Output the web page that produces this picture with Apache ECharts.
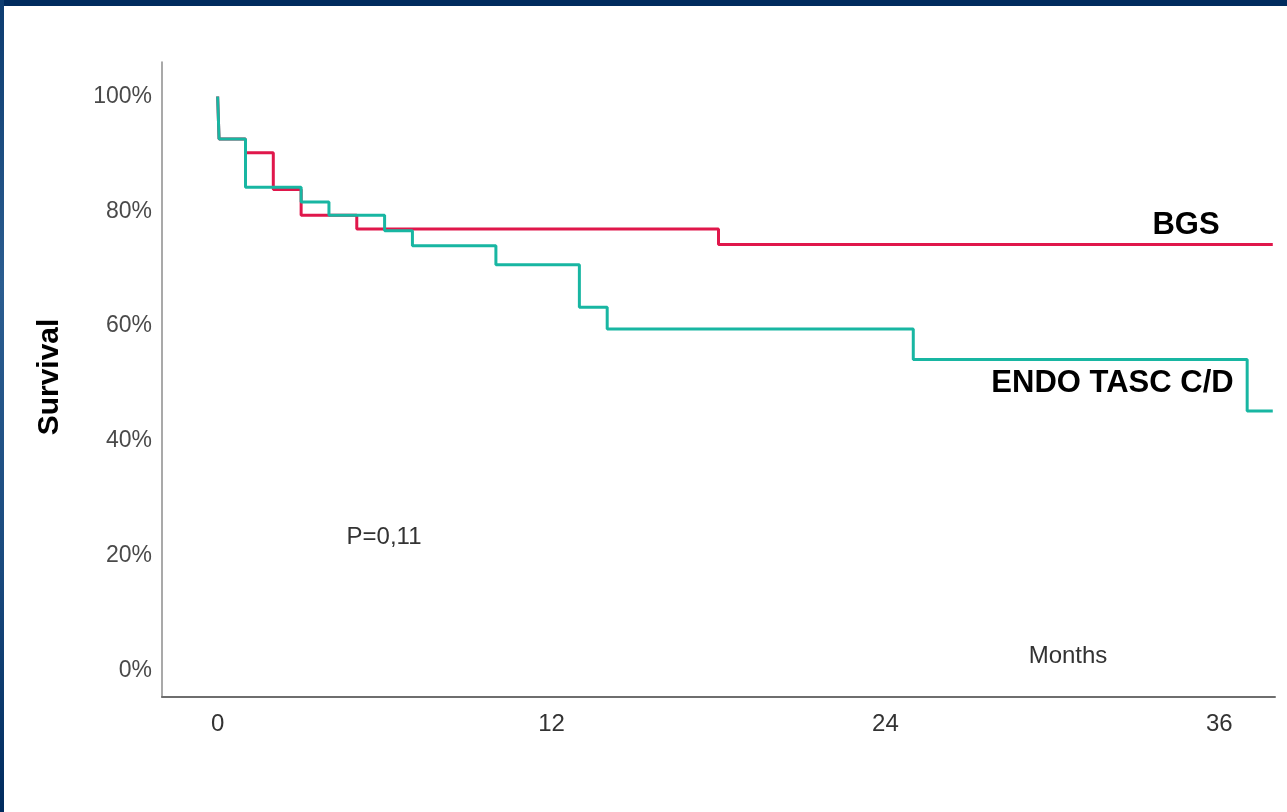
<!DOCTYPE html>
<html><head><meta charset="utf-8">
<script src="https://cdn.jsdelivr.net/npm/echarts@6/dist/echarts.min.js"></script>
<style>
html,body{margin:0;padding:0;background:#fff;}
#frameTop{position:absolute;left:0;top:0;width:1287px;height:6px;background:#002b5e;}
#frameLeft{position:absolute;left:0;top:0;width:4px;height:812px;background:linear-gradient(#0d3c70,#2b5d90 35%,#1a4a7e 70%,#002b5e);}
#chart{position:absolute;left:0;top:0;width:1287px;height:812px;}
</style></head><body>
<div id="frameTop"></div><div id="frameLeft"></div><div id="chart"></div>
<script>
// Tick labels
const xTicks = [0, 12, 24, 36];
const yTicks = [0, 20, 40, 60, 80, 100];
// BGS (red) Kaplan-Meier steps: months and survival (%)
const bgsMonths = [0, 0.05, 1, 2, 3, 5, 18, 37.92];
const bgsSurv   = [100, 92.6, 90.2, 83.8, 79.3, 76.9, 74.2, 74.2];
// ENDO TASC C/D (teal) steps
const endoMonths = [0, 0.05, 1, 3, 4, 6, 7, 10, 13, 14, 25, 37, 37.92];
const endoSurv   = [100, 92.6, 84.2, 81.6, 79.3, 76.6, 74.0, 70.7, 63.3, 59.5, 54.2, 45.2, 45.2];
const seriesNames = ['BGS', 'ENDO TASC C/D'];

const chart = echarts.init(document.getElementById('chart'), null, {renderer: 'canvas'});
const zip = (a, b) => a.map((v, i) => [v, b[i]]);
chart.setOption({
  animation: false,
  backgroundColor: 'transparent',
  grid: {left: 162, top: 62, right: 12, bottom: 115, containLabel: false},
  xAxis: {
    type: 'value', min: -2, max: 38,
    axisLine: {show: true, onZero: false, lineStyle: {color: '#6e6e6e', width: 2}},
    axisTick: {show: false},
    splitLine: {show: false},
    axisLabel: {customValues: xTicks, margin: 15, color: '#333',
      fontFamily: 'Liberation Sans, Arial, sans-serif', fontSize: 24}
  },
  yAxis: {
    type: 'value', min: -4.6, max: 106,
    axisLine: {show: true, onZero: false, lineStyle: {color: '#8c8c8c', width: 1.5}},
    axisTick: {show: false},
    splitLine: {show: false},
    axisLabel: {customValues: yTicks, margin: 10, color: '#4a4a4a',
      fontFamily: 'Liberation Sans, Arial, sans-serif', fontSize: 23,
      formatter: v => v + '%'}
  },
  series: [
    {name: seriesNames[0], type: 'line', step: 'end', symbol: 'none',
     data: zip(bgsMonths, bgsSurv),
     lineStyle: {color: '#e0174b', width: 3}},
    {name: seriesNames[1], type: 'line', step: 'end', symbol: 'none',
     data: zip(endoMonths, endoSurv),
     lineStyle: {color: '#18b6a2', width: 3}}
  ],
  graphic: [
    {type: 'text', x: 49.5, y: 377, rotation: Math.PI / 2,
     style: {text: 'Survival', fill: '#000', font: 'bold 30px "Liberation Sans", Arial, sans-serif',
       align: 'center', verticalAlign: 'middle'}},
    {type: 'text', x: 1186, y: 225,
     style: {text: seriesNames[0], fill: '#000', font: 'bold 31px "Liberation Sans", Arial, sans-serif',
       align: 'center', verticalAlign: 'middle'}},
    {type: 'text', x: 1112.5, y: 383,
     style: {text: seriesNames[1], fill: '#000', font: 'bold 31px "Liberation Sans", Arial, sans-serif',
       align: 'center', verticalAlign: 'middle'}},
    {type: 'text', x: 384, y: 537,
     style: {text: 'P=0,11', fill: '#333', font: '24px "Liberation Sans", Arial, sans-serif',
       align: 'center', verticalAlign: 'middle'}},
    {type: 'text', x: 1068, y: 656,
     style: {text: 'Months', fill: '#333', font: '24px "Liberation Sans", Arial, sans-serif',
       align: 'center', verticalAlign: 'middle'}}
  ]
});
</script>
</body></html>
